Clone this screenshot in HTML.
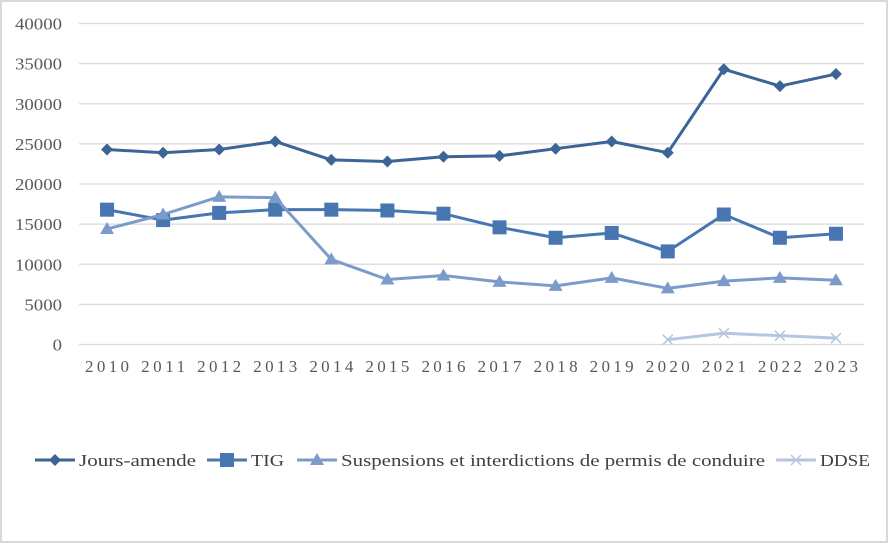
<!DOCTYPE html>
<html><head><meta charset="utf-8"><style>
html,body{margin:0;padding:0;background:#fff}
svg{display:block;font-family:"Liberation Serif",serif}
</style></head><body>
<svg id="chart" width="888" height="543">
<rect x="1" y="1" width="886" height="541" fill="#fff" stroke="#d9d9d9" stroke-width="2"/>
<g id="grid"></g><g id="series"></g><g id="legend"></g>
</svg>
<script>
const years=["2010","2011","2012","2013","2014","2015","2016","2017","2018","2019","2020","2021","2022","2023"];
const yTicks=[0,5000,10000,15000,20000,25000,30000,35000,40000];
const joursAmende=[24300,23900,24300,25300,23000,22800,23400,23500,24400,25300,23900,34300,32200,33700];
const tig=[16800,15500,16400,16800,16800,16700,16300,14600,13300,13900,11600,16200,13300,13800];
const suspensions=[14400,16200,18400,18300,10600,8100,8600,7800,7300,8300,7000,7900,8300,8000];
const ddse=[null,null,null,null,null,null,null,null,null,null,600,1400,1100,800];
const NS="http://www.w3.org/2000/svg";
const L=79,R=864,T=23.5,B=344.5,MAX=40000;
const step=(R-L)/years.length;
const xs=i=>L+step*(i+0.5);
const ys=v=>B-(v/MAX)*(B-T);
function mk(tag,attrs,parent){const e=document.createElementNS(NS,tag);for(const k in attrs)e.setAttribute(k,attrs[k]);parent.appendChild(e);return e;}
const grid=document.getElementById('grid');
yTicks.forEach(t=>{
  const ln=mk('line',{x1:L,x2:R,y1:ys(t),y2:ys(t),stroke:'#d9d9d9','stroke-width':1.3},grid);
  
  
  const n=String(t).length;
  const tx=mk('text',{x:62,y:ys(t)+6,'text-anchor':'end','font-size':17,fill:'#595959',textLength:n*9.4,lengthAdjust:'spacingAndGlyphs'},grid);
  tx.textContent=t;
  
  
});
years.forEach((y,i)=>{
  const tx=mk('text',{x:xs(i)-22,y:372,'font-size':17,fill:'#595959',textLength:44,lengthAdjust:'spacing'},grid);
  tx.textContent=y;
  
  
});
const sg=document.getElementById('series');
function marker(type,x,y,c,g){
  let e;
  if(type==='diamond')e=mk('path',{d:`M${x} ${y-6}L${x+6} ${y}L${x} ${y+6}L${x-6} ${y}Z`,fill:c},g);
  else if(type==='square')e=mk('rect',{x:x-7,y:y-7,width:14,height:14,fill:c},g);
  else if(type==='triangle')e=mk('path',{d:`M${x} ${y-7}L${x+7} ${y+5}L${x-7} ${y+5}Z`,fill:c},g);
  else e=mk('path',{d:`M${x-5} ${y-5}L${x+5} ${y+5}M${x+5} ${y-5}L${x-5} ${y+5}`,stroke:c,'stroke-width':1.5,fill:'none'},g);
  return e;
}
const defs=[
 {name:'jours-amende',label:'Jours-amende',data:joursAmende,c:'#3b6596',m:'diamond'},
 {name:'tig',label:'TIG',data:tig,c:'#4876b0',m:'square'},
 {name:'suspensions',label:'Suspensions et interdictions de permis de conduire',data:suspensions,c:'#7c9bcb',m:'triangle'},
 {name:'ddse',label:'DDSE',data:ddse,c:'#b6c6e1',m:'x'}
];
defs.forEach(s=>{
  const g=mk('g',{},sg);
  
  
  const pts=[];s.data.forEach((v,i)=>{if(v!=null)pts.push([xs(i),ys(v),i]);});
  const pl=mk('polyline',{points:pts.map(p=>p[0]+','+p[1]).join(' '),fill:'none',stroke:s.c,'stroke-width':3,'stroke-linejoin':'round'},g);
  
  
  pts.forEach(p=>{
    const m=marker(s.m,p[0],p[1],s.c,g);
    
    
  });
});
const lg=document.getElementById('legend');
const lx=[35,207,297,776];
const lw=[117,33,424,50];
defs.forEach((s,i)=>{
  const g=mk('g',{},lg);
  
  
  const y=460,x=lx[i];
  mk('line',{x1:x,x2:x+40,y1:y,y2:y,stroke:s.c,'stroke-width':3},g);
  marker(s.m,x+20,y,s.c,g);
  const t=mk('text',{x:x+44,y:y+6,'font-size':17,fill:'#404040',textLength:lw[i],lengthAdjust:'spacingAndGlyphs'},g);
  t.textContent=s.label;
});
</script>
</body></html>
